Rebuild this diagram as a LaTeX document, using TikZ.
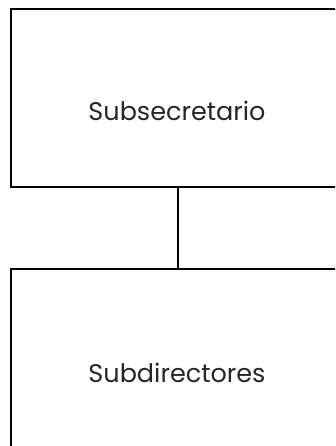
\documentclass[tikz,border=0pt]{standalone}
\usepackage{fontspec}
\setmainfont{Poppins}
\usetikzlibrary{positioning}
\begin{document}
\begin{tikzpicture}[x=1pt,y=-1pt,
  orgbox/.style={draw=black, line width=2pt, fill=white, minimum width=334pt, minimum height=178pt, inner sep=0pt, anchor=north west},
  orglabel/.style={font=\fontsize{25.5}{30}\selectfont, text=black!85, inner sep=0pt},
  link/.style={draw=black, line width=2pt}]
  \clip (0,0) rectangle (335,446);
  \fill[white] (0,0) rectangle (335,446);
  % boxes
  \node[orgbox] (sec) at (10,8) {};
  \node[orgbox] (dir) at (10,268) {};
  % labels
  \node[orglabel] (secl) at (177,111) {Subsecretario};
  \node[orglabel] (dirl) at (177,373) {Subdirectores};
  % connector
  \draw[link] (sec.south) -- (dir.north);
\end{tikzpicture}
\end{document}
